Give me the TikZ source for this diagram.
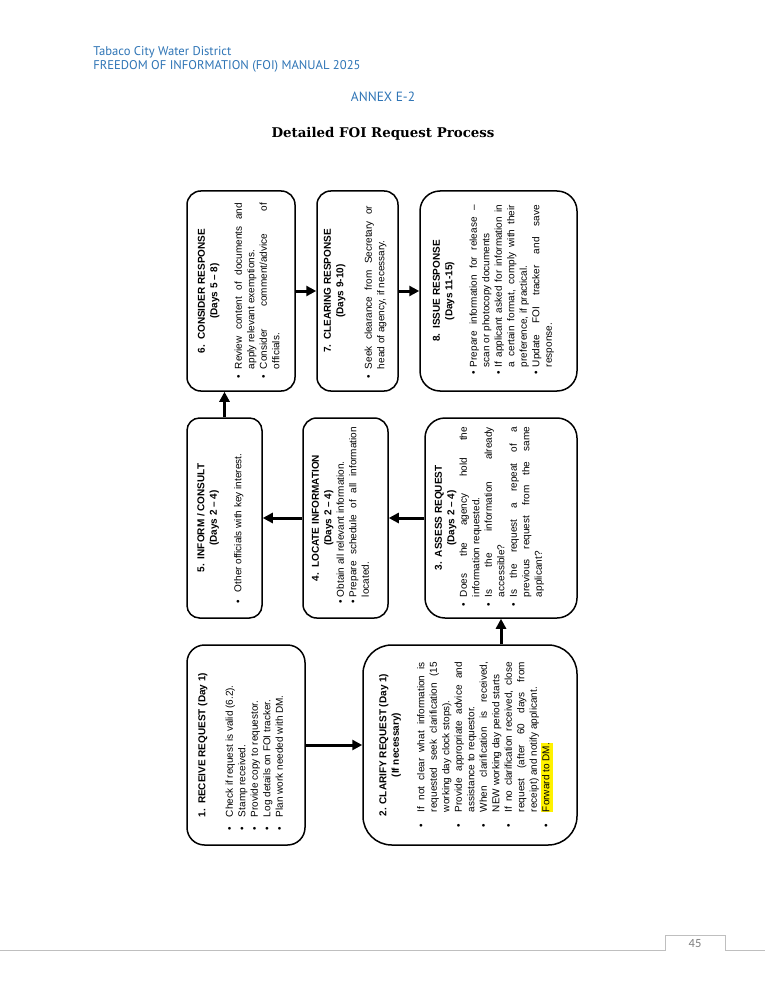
\documentclass[tikz,border=0pt]{standalone}
\usepackage{fontspec}
\setmainfont{Liberation Sans}
\newfontfamily\headfont{PT Sans}
\newfontfamily\titlefont{DejaVu Serif}
\newfontfamily\pagefont{Carlito}
\usepackage{graphicx}
\usepackage{enumitem}
\usepackage{tikz}
\usetikzlibrary{arrows.meta}
\definecolor{headblue}{RGB}{46,116,181}
\definecolor{rulegray}{RGB}{191,191,191}
\definecolor{pagegray}{RGB}{127,127,127}
\newdimen\px \px=0.8pt
\newcommand{\stagetext}[3][11]{\rotatebox{90}{\begin{minipage}[c][#2\px][t]{200\px}\fontsize{8}{10}\selectfont\vspace*{#1\px}#3\end{minipage}}}
\newcommand{\stagetitle}[1]{{\centering\bfseries #1\par}}
\newenvironment{steplist}[3]{\par\hspace*{#1\px}\begin{minipage}[t]{\dimexpr #2\px+#3\px\relax}\begin{itemize}[leftmargin=#2\px,labelwidth=#2\px,labelsep=0pt,align=left,label=\textbullet,nosep]}{\end{itemize}\end{minipage}}

\begin{document}
\begin{tikzpicture}[x=0.8pt,y=-0.8pt]
\tikzstyle{stage}=[draw,line width=1.2pt,inner sep=0pt];
\tikzstyle{flow}=[-{Triangle[length=8pt,width=8pt]},line width=2.4pt];
\useasboundingbox (0,0) rectangle (765,990);
\node (district) [anchor=base west,headblue,font=\headfont\fontsize{10.1}{12}\selectfont] at (89,56) {Tabaco City Water District};
\node (manual) [anchor=base west,headblue,font=\headfont\fontsize{10.1}{12}\selectfont] at (89,70) {FREEDOM OF INFORMATION (FOI) MANUAL 2025};
\node (annex) [anchor=base,headblue,font=\headfont\fontsize{10.7}{12}\selectfont] at (383,102) {ANNEX E-2};
\node (title) [anchor=base,font=\titlefont\bfseries\fontsize{10.7}{12}\selectfont] at (383,138) {Detailed FOI Request Process};
\node (1) [stage,rounded corners=14pt] at (246,745) {\stagetext{118}{\stagetitle{1.\enspace RECEIVE REQUEST (Day 1)}\vspace{15\px}\begin{steplist}{15}{13}{150}\raggedright
\item Check if request is valid (6.2).
\item Stamp received.
\item Provide copy to requestor.
\item Log details on FOI tracker.
\item Plan work needed with DM.
\end{steplist}}};
\node (2) [stage,rounded corners=23pt] at (470,745) {\stagetext[16]{214}{\stagetitle{2. CLARIFY REQUEST (Day 1)\\(If necessary)}\vspace{13\px}\begin{steplist}{18}{15}{150}
\item If not clear what information is\linebreak requested seek clarification (15\linebreak working day clock stops).
\item Provide appropriate advice and\linebreak assistance to requestor.
\item When clarification is received,\linebreak NEW working day period starts
\item If no clarification received, close\linebreak request (after 60 days from\linebreak receipt) and notify applicant.
\item {\setlength{\fboxsep}{0pt}\colorbox{yellow}{\strut Forward to DM.}}
\end{steplist}}};
\node (3) [stage,rounded corners=16pt] at (501,518) {\stagetext[10]{152}{\stagetitle{3.\enspace ASSESS REQUEST\\(Days 2 -- 4)}\begin{steplist}{12}{9}{170}
\item Does the agency hold the\linebreak information requested.
\item Is the information already\linebreak accessible?
\item Is the request a repeat of a\linebreak previous request from the same\linebreak applicant?
\end{steplist}}};
\node (4) [stage,rounded corners=11pt] at (345.5,518) {\stagetext[9]{85}{\stagetitle{4.\enspace LOCATE INFORMATION\\(Days 2 -- 4)}\begin{steplist}{15}{6}{170}
\item Obtain all relevant information.
\item Prepare schedule of all information\linebreak located.
\end{steplist}}};
\node (5) [stage,rounded corners=10pt] at (224.5,518) {\stagetext[10]{75}{\stagetitle{5.\enspace INFORM / CONSULT\\(Days 2 -- 4)}\vspace{12\px}\begin{steplist}{15}{11}{165}
\item Other officials with key interest.
\end{steplist}}};
\node (6) [stage,rounded corners=11pt] at (241,291) {\stagetext{108}{\stagetitle{6.\enspace CONSIDER RESPONSE\\(Days 5 -- 8)}\vspace{12\px}\begin{steplist}{13}{9}{166}
\item Review content of documents and\linebreak apply relevant exemptions.
\item Consider comment/advice of\linebreak officials.
\end{steplist}}};
\node (7) [stage,rounded corners=11pt] at (357.5,291) {\stagetext[7]{81}{\stagetitle{7.\enspace CLEARING RESPONSE\\(Days 9-10)}\vspace{16\px}\begin{steplist}{13}{9}{163}
\item Seek clearance from Secretary or\linebreak head of agency, if necessary.
\end{steplist}}};
\node (8) [stage,rounded corners=16pt] at (498.5,291) {\stagetext[13]{157}{\stagetitle{8.\enspace ISSUE RESPONSE\\(Days 11-15)}\vspace{12\px}\begin{steplist}{17}{7}{162}
\item Prepare information for release --\linebreak scan or photocopy documents
\item If applicant asked for information in\linebreak a certain format, comply with their\linebreak preference, if practical.
\item Update FOI tracker and save\linebreak response.
\end{steplist}}};
\draw [flow] (1) -- (2);
\draw [flow] (2.north -| 3) -- (3.south);
\draw [flow] (3) -- (4);
\draw [flow] (4) -- (5);
\draw [flow] (5.north) -- (5.north |- 6.south);
\draw [flow] (6) -- (7);
\draw [flow] (7) -- (8);
\draw [rulegray,line width=0.8pt] (0,950) -- (665,950) -- (665,935) -- (725,935) -- (725,950) -- (765,950);
\node (page) [pagegray,font=\pagefont\fontsize{10}{12}\selectfont] at (695,944) {45};
\end{tikzpicture}
\end{document}
